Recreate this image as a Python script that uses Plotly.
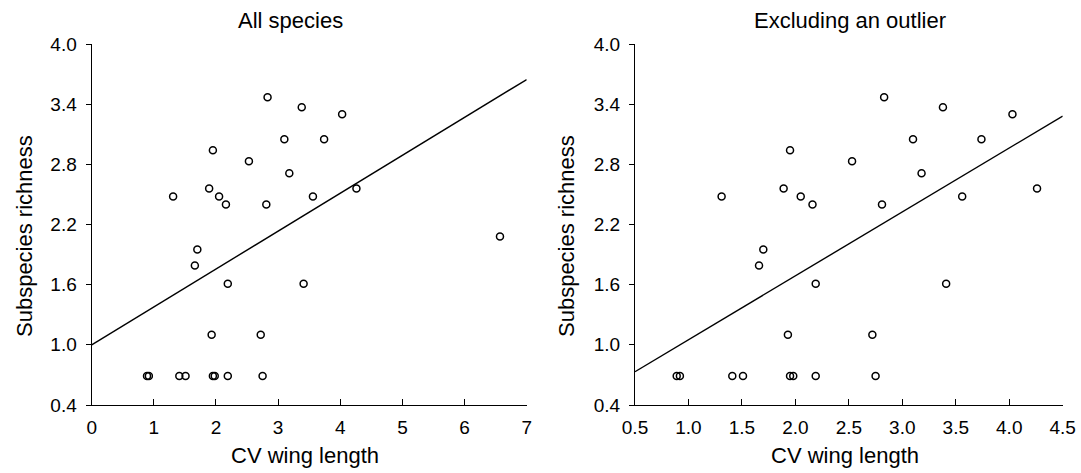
import plotly.graph_objects as go

# ---- data ----
cv_all = [2.83, 3.38, 4.03, 3.10, 3.74, 1.95, 2.53, 3.18, 1.89, 1.31,
          2.05, 3.56, 4.26, 2.16, 2.81, 1.70, 1.66, 2.19, 3.41, 6.57,
          1.93, 2.72, 0.89, 0.92, 1.41, 1.51, 1.95, 1.98, 2.19, 2.75]
rich_all = [3.47, 3.37, 3.30, 3.05, 3.05, 2.94, 2.83, 2.71, 2.56, 2.48,
            2.48, 2.48, 2.56, 2.40, 2.40, 1.95, 1.79, 1.61, 1.61, 2.08,
            1.10, 1.10, 0.69, 0.69, 0.69, 0.69, 0.69, 0.69, 0.69, 0.69]
outlier_index = 19  # the point at CV = 6.57
cv_excl = [v for i, v in enumerate(cv_all) if i != outlier_index]
rich_excl = [v for i, v in enumerate(rich_all) if i != outlier_index]

# regression lines (intercept, slope)
fit_all = [1.00, 0.378]
fit_excl = [0.413, 0.6375]

x_range_all = [0, 7]
x_range_excl = [0.5, 4.5]
y_range = [0.4, 4.0]
y_ticks = [0.4, 1.0, 1.6, 2.2, 2.8, 3.4, 4.0]
x_ticks_all = [0, 1, 2, 3, 4, 5, 6, 7]
x_ticks_excl = [0.5, 1.0, 1.5, 2.0, 2.5, 3.0, 3.5, 4.0, 4.5]

titles = ["All species", "Excluding an outlier"]
x_title = "CV wing length"
y_title = "Subspecies richness"

FONT = "Liberation Sans, Arial, Helvetica, sans-serif"
W, H = 1081, 473

fig = go.Figure()

marker = dict(symbol="circle-open", size=7, color="black", line=dict(width=1.5, color="black"))

fig.add_trace(go.Scatter(x=cv_all, y=rich_all, mode="markers", marker=marker,
                         xaxis="x", yaxis="y", showlegend=False))
fig.add_trace(go.Scatter(x=x_range_all,
                         y=[fit_all[0] + fit_all[1] * v for v in x_range_all],
                         mode="lines", line=dict(color="black", width=1.4),
                         xaxis="x", yaxis="y", showlegend=False))
fig.add_trace(go.Scatter(x=cv_excl, y=rich_excl, mode="markers", marker=marker,
                         xaxis="x2", yaxis="y2", showlegend=False))
fig.add_trace(go.Scatter(x=x_range_excl,
                         y=[fit_excl[0] + fit_excl[1] * v for v in x_range_excl],
                         mode="lines", line=dict(color="black", width=1.4),
                         xaxis="x2", yaxis="y2", showlegend=False))

ydom = [(H - 405) / H, (H - 44) / H]
xdom1 = [91.7 / W, 526.7 / W]
xdom2 = [635.0 / W, 1062.7 / W]

common_x = dict(showgrid=False, zeroline=False, showline=True, linecolor="black",
                linewidth=1.3, ticks="inside", ticklen=6, tickwidth=1.2, tickcolor="black",
                tickfont=dict(family=FONT, size=19, color="black"),
                ticklabelstandoff=5, automargin=False, fixedrange=True)
common_y = dict(showgrid=False, zeroline=False, showline=True, linecolor="black",
                linewidth=1.3, ticks="outside", ticklen=5, tickwidth=1.2, tickcolor="black",
                tickfont=dict(family=FONT, size=19, color="black"),
                tickvals=y_ticks, tickformat=".1f", range=y_range, domain=ydom,
                ticklabelstandoff=5, automargin=False, fixedrange=True)

fig.update_layout(
    width=W, height=H,
    margin=dict(l=0, r=0, t=0, b=0, pad=0, autoexpand=False),
    paper_bgcolor="white", plot_bgcolor="white",
    font=dict(family=FONT, color="black"),
    xaxis=dict(common_x, domain=xdom1, range=x_range_all, tickvals=x_ticks_all,
               tickformat="d", anchor="y"),
    yaxis=dict(common_y, anchor="x"),
    xaxis2=dict(common_x, domain=xdom2, range=x_range_excl, tickvals=x_ticks_excl,
                tickformat=".1f", anchor="y2"),
    yaxis2=dict(common_y, anchor="x2"),
)

ann_font = dict(family=FONT, size=22, color="black")
# panel titles
fig.add_annotation(text=titles[0], x=290 / W, y=(H - 20) / H, xref="paper", yref="paper",
                   showarrow=False, font=ann_font, xanchor="center", yanchor="middle")
fig.add_annotation(text=titles[1], x=850 / W, y=(H - 20) / H, xref="paper", yref="paper",
                   showarrow=False, font=ann_font, xanchor="center", yanchor="middle")
# axis titles
for xc in (305, 845):
    fig.add_annotation(text=x_title, x=xc / W, y=(H - 455) / H, xref="paper", yref="paper",
                       showarrow=False, font=ann_font, xanchor="center", yanchor="middle")
for xc in (24, 566):
    fig.add_annotation(text=y_title, x=xc / W, y=(H - 236) / H, xref="paper", yref="paper",
                       showarrow=False, font=ann_font, textangle=-90,
                       xanchor="center", yanchor="middle")

fig.write_html("out.html", config={"displayModeBar": False},
               post_script="document.body.style.margin='0';document.body.style.overflow='hidden';")
